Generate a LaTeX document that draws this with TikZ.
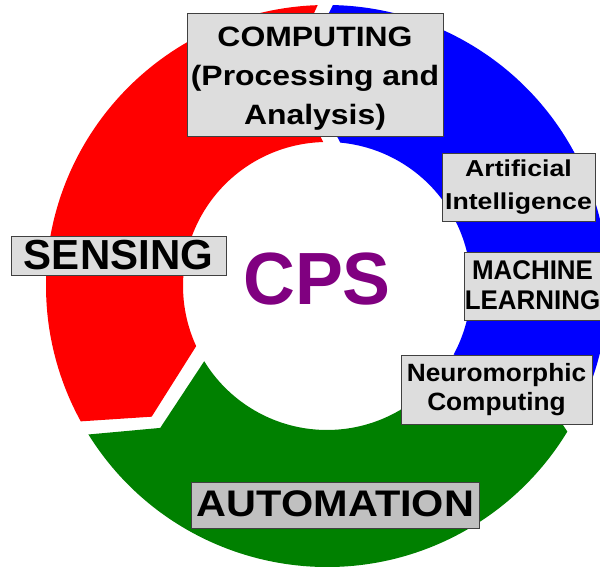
\documentclass[tikz,border=0pt]{standalone}
\usepackage{fontspec}
\setmainfont{Liberation Sans}
\usepackage{graphicx}
\definecolor{ringred}{RGB}{255,0,0}
\definecolor{ringblue}{RGB}{0,0,255}
\definecolor{ringgreen}{RGB}{0,128,0}
\definecolor{cpspurple}{RGB}{128,0,128}
\definecolor{boxgray}{RGB}{221,221,221}
\definecolor{boxdark}{RGB}{192,192,192}
\definecolor{edgegray}{RGB}{64,64,64}
\newcommand\boxtext[5]{\raisebox{#1}[0pt][0pt]{\fontsize{#2}{#3}\selectfont\bfseries\scalebox{#4}[1]{\begin{tabular}[t]{@{}c@{}}#5\end{tabular}}}}
\begin{document}
\begin{tikzpicture}[x=1pt,y=1pt,
  labelbox/.style={draw=edgegray, line width=0.8pt, fill=boxgray, inner sep=0pt, rectangle}]
\useasboundingbox (0,0) rectangle (600,567);
\clip (0,0) rectangle (600,567);
\coordinate (ctr) at (327,281);
\foreach \col/\rot in {ringred/0, ringgreen/120, ringblue/240}{
  \begin{scope}[shift={(ctr)}, rotate=\rot]
    \fill[\col] (91.9:281) arc[start angle=91.9, end angle=208.8, radius=281]
      -- (216.7:218.7) -- (204.7:144) arc[start angle=204.7, end angle=91.5, radius=144]
      -- (100.4:219) -- cycle;
  \end{scope}
}
\node[inner sep=0pt, text=cpspurple] (cps) at (317,288.5) {\boxtext{-26.5pt}{74}{80}{0.97}{CPS}};
\node[labelbox, minimum width=256pt, minimum height=123pt] (computing) at (315,492.5)
  {\boxtext{27.8pt}{28}{39}{1.14}{COMPUTING\\(Processing and\\Analysis)}};
\node[labelbox, minimum width=215pt, minimum height=39pt] (sensing) at (118.5,311.5)
  {\boxtext{-14.5pt}{42}{50}{1.0}{SENSING}};
\node[labelbox, minimum width=153pt, minimum height=68pt] (ai) at (518.5,380)
  {\boxtext{10.3pt}{23}{32.6}{1.16}{Artificial\\Intelligence}};
\node[labelbox, minimum width=137pt, minimum height=68pt] (ml) at (532.5,281)
  {\boxtext{6.7pt}{27}{30}{0.96}{MACHINE\\LEARNING}};
\node[labelbox, minimum width=191pt, minimum height=69pt] (nc) at (496.5,177.5)
  {\boxtext{7.5pt}{25}{29}{1.05}{Neuromorphic\\Computing}};
\node[labelbox, fill=boxdark, minimum width=288pt, minimum height=46pt] (automation) at (335.5,61.7)
  {\boxtext{-11.4pt}{37}{44}{1.12}{AUTOMATION}};
\end{tikzpicture}
\end{document}
